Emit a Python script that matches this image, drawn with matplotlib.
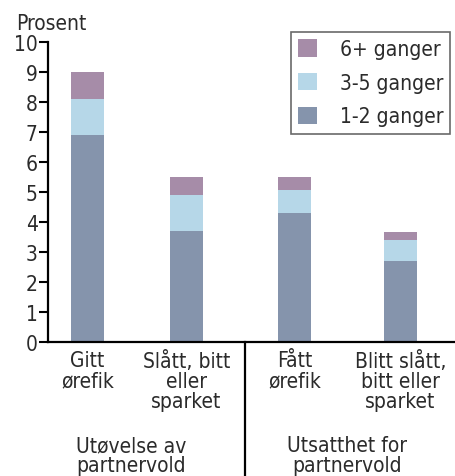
import numpy as np
import matplotlib.pyplot as plt

plt.rcParams['font.family'] = ['DejaVu Sans']
plt.rcParams['font.stretch'] = 'condensed'

# data ################################################################
categories = ['Gitt\nørefik', 'Slått, bitt\neller\nsparket',
              'Fått\nørefik', 'Blitt slått,\nbitt eller\nsparket']
groups = ['Utøvelse av\npartnervold', 'Utsatthet for\npartnervold']
ganger_1_2 = [6.9, 3.7, 4.3, 2.7]
ganger_3_5 = [1.2, 1.2, 0.77, 0.7]
ganger_6 = [0.9, 0.6, 0.43, 0.27]
series_labels = ['1-2 ganger', '3-5 ganger', '6+ ganger']
colors = ['#8594ac', '#b6d7e8', '#a68ca8']

# layout ##############################################################
xpos = np.array([0, 1, 2.09, 3.16])
text_col = '#2b2b2b'
fs = 15

fig = plt.figure(figsize=(4.56, 4.77), dpi=100)
ax = fig.add_axes([48/456, 134/477, 408/456, 300/477])

b1 = ax.bar(xpos, ganger_1_2, width=0.333, color=colors[0], label=series_labels[0])
bottom2 = np.array(ganger_1_2)
b2 = ax.bar(xpos, ganger_3_5, width=0.333, bottom=bottom2, color=colors[1], label=series_labels[1])
bottom3 = bottom2 + np.array(ganger_3_5)
b3 = ax.bar(xpos, ganger_6, width=0.333, bottom=bottom3, color=colors[2], label=series_labels[2])

ax.set_xlim(-0.399, 3.722)
ax.set_ylim(0, 10)
ax.set_yticks(range(0, 11))
ax.tick_params(axis='y', length=6.5, width=1.5, colors='black', labelcolor=text_col,
               labelsize=fs, pad=1)
ax.set_xticks([])
for s in ['top', 'right']:
    ax.spines[s].set_visible(False)
for s in ['left', 'bottom']:
    ax.spines[s].set_linewidth(1.6)

ax.text(-0.72, 10.43, 'Prosent', fontsize=fs, color=text_col, ha='left', va='baseline',
        clip_on=False)

# category labels
for x, lab in zip(xpos, categories):
    ax.text(x, -0.28, lab, ha='center', va='top', fontsize=fs, color=text_col,
            linespacing=1.0, clip_on=False)

ax.text(0.44, -3.1, groups[0], ha='center', va='top', fontsize=fs, color=text_col,
        linespacing=1.0, clip_on=False)
ax.text(2.625, -3.1, groups[1], ha='center', va='top', fontsize=fs, color=text_col,
        linespacing=1.0, clip_on=False)

# divider between the two groups
ax.axvline(1.59, ymin=-0.45, ymax=0, color='black', linewidth=1.6, clip_on=False)

leg = ax.legend(handles=[b3, b2, b1], loc='upper right', bbox_to_anchor=(1.012, 1.068),
                fontsize=fs, frameon=True, fancybox=False, edgecolor='#444444',
                handlelength=0.9, handleheight=0.9, handletextpad=1.1,
                labelspacing=0.65, borderpad=0.35, labelcolor=text_col)
leg.get_frame().set_linewidth(1.2)

plt.savefig('out.png', dpi=100)
